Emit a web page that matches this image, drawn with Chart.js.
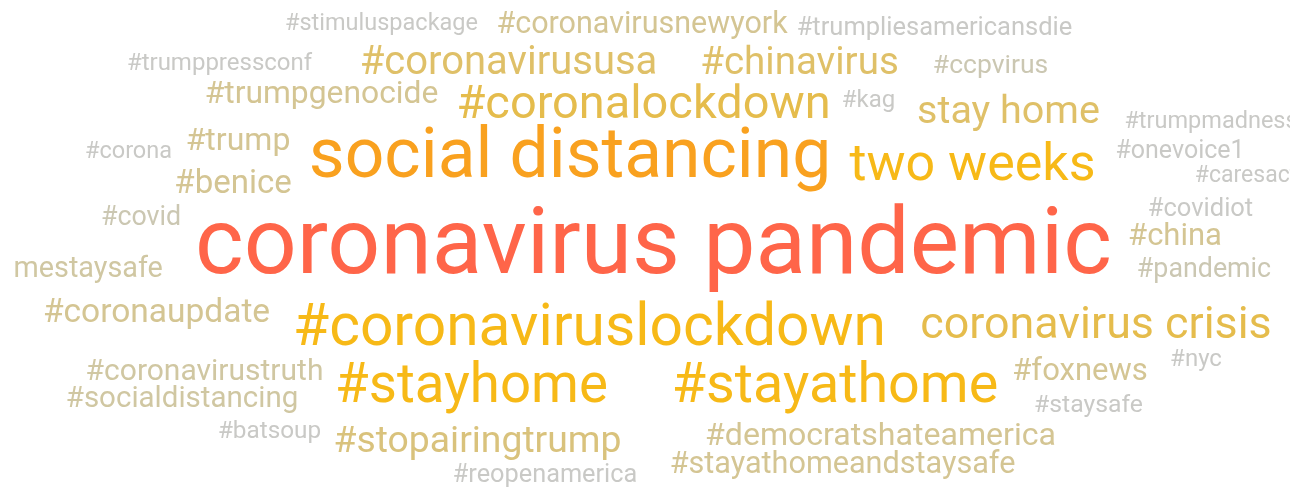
<!DOCTYPE html>
<html>
<head>
<meta charset="utf-8">
<script src="https://cdn.jsdelivr.net/npm/chart.js@4/dist/chart.umd.min.js"></script>
<style>
  html, body { margin: 0; padding: 0; background: #fff; }
  #wrap { width: 1299px; height: 488px; position: relative; }
</style>
</head>
<body>
<div id="wrap"><canvas id="cloud"></canvas></div>
<script>
// word cloud data
const words = [
  '#stimuluspackage', '#coronavirusnewyork', '#trumpliesamericansdie', '#trumppressconf',
  '#coronavirususa', '#chinavirus', '#ccpvirus', '#trumpgenocide', '#coronalockdown', '#kag',
  'stay home', '#trumpmadness', '#trump', '#corona', 'social distancing', 'two weeks',
  '#onevoice1', '#benice', '#caresact', '#covid', '#covidiot', 'coronavirus pandemic',
  '#china', '#stayhomestaysafe', '#pandemic', '#coronaupdate', '#coronaviruslockdown',
  'coronavirus crisis', '#nyc', '#coronavirustruth', '#stayhome', '#stayathome', '#foxnews',
  '#socialdistancing', '#staysafe', '#batsoup', '#stopairingtrump', '#democratshateamerica',
  '#stayathomeandstaysafe', '#reopenamerica'
];
const weights = [
  23.5, 30.5, 25.5, 24,
  40, 38.5, 26.5, 31.8, 46.9, 24,
  39.5, 23.5, 32, 23.5, 69.5, 52,
  25, 33, 23, 26.8, 25.5, 93,
  31, 28.8, 26.8, 33.5, 58.7,
  44.8, 24, 30, 54.6, 55.7, 31,
  29.5, 24.8, 24.3, 37.3, 32.1,
  30.6, 25.3
];
// word centre (x) and baseline (y) in cloud units
const xs = [
  381.5, 642, 934.5, 219.5,
  508.5, 799.5, 990.5, 321.5, 643.5, 868.5,
  1008.5, 1211, 238, 128.5, 570, 972.5,
  1180, 233, 1246, 141, 1200.5, 653.5,
  1175, 36.5, 1204, 156.5, 589.5,
  1096, 1196, 204.5, 471.5, 835, 1080,
  182, 1088.5, 269.5, 477.5, 880.5,
  842.5, 545
];
const ys = [
  30, 33, 35, 70,
  74, 74, 73, 103, 118, 107,
  123, 128, 150, 158, 177, 180,
  158, 193, 182, 225, 216, 273,
  245, 277, 277, 322, 345,
  338, 366, 380, 402, 402, 380,
  407, 412, 438, 452, 445,
  473, 482
];

// colour by weight
function colorFor(w) {
  if (w >= 80) return '#ff6549';
  if (w >= 60) return '#f9a11f';
  if (w >= 50) return '#f7b917';
  if (w >= 42) return '#e5bc4c';
  if (w >= 38) return '#dfc068';
  if (w >= 36) return '#d9c27c';
  if (w >= 30.5) return '#d4c593';
  if (w >= 27.5) return '#d0c7a2';
  if (w >= 26) return '#cbc7b2';
  return '#c9c9c6';
}

const wordPlugin = {
  id: 'words',
  afterDatasetsDraw(chart) {
    const ctx = chart.ctx;
    const meta = chart.getDatasetMeta(0);
    ctx.save();
    ctx.beginPath();
    ctx.rect(13, 0, 1277, chart.height);
    ctx.clip();
    ctx.textAlign = 'center';
    ctx.textBaseline = 'alphabetic';
    meta.data.forEach((pt, i) => {
      ctx.font = weights[i] + 'px Roboto';
      ctx.fillStyle = colorFor(weights[i]);
      ctx.fillText(words[i], pt.x, pt.y);
    });
    ctx.restore();
  }
};

const chart = new Chart(document.getElementById('cloud'), {
  type: 'scatter',
  data: {
    datasets: [{
      data: xs.map((x, i) => ({ x: x, y: ys[i] })),
      pointRadius: 0,
      pointHoverRadius: 0
    }]
  },
  options: {
    responsive: true,
    maintainAspectRatio: false,
    animation: false,
    layout: { padding: 0 },
    plugins: {
      legend: { display: false },
      tooltip: { enabled: false }
    },
    scales: {
      x: { type: 'linear', min: 0, max: 1299, display: false },
      y: { type: 'linear', min: 0, max: 488, reverse: true, display: false }
    }
  },
  plugins: [wordPlugin]
});
</script>
</body>
</html>
